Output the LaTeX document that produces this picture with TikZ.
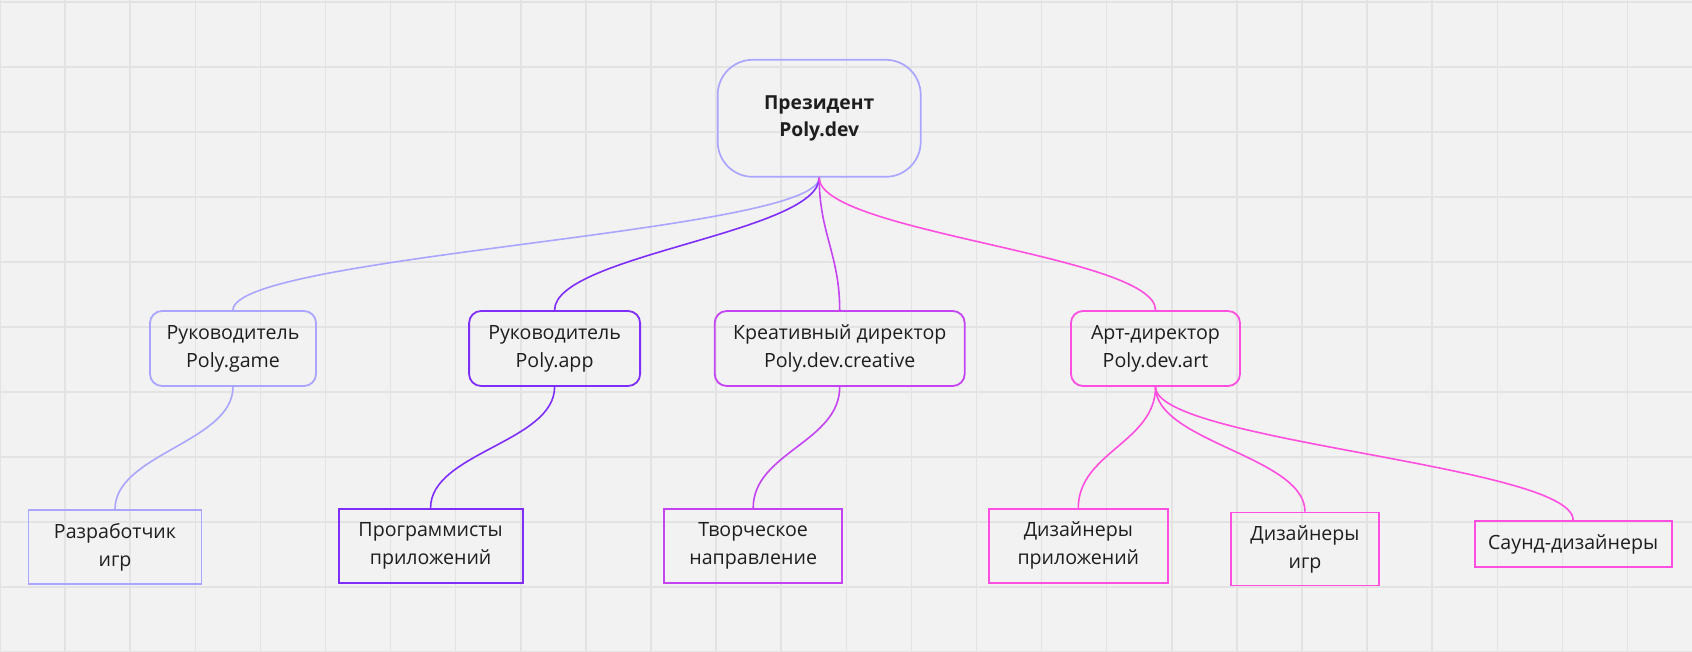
\documentclass[tikz,border=0pt]{standalone}
\usepackage{fontspec}
\setmainfont{Open Sans}
\usepackage{xcolor}
\definecolor{canvas}{HTML}{F2F2F2}
\definecolor{gridgray}{HTML}{E3E3E3}
\definecolor{inkcol}{HTML}{1E1E1E}
\definecolor{gamecol}{HTML}{AAA6FF}
\definecolor{appcol}{HTML}{7F2EF9}
\definecolor{creativecol}{HTML}{C443F2}
\definecolor{artcol}{HTML}{FF4FE0}

\begin{document}
\begin{tikzpicture}[
    x=1pt, y=-1pt,
    chief/.style={rectangle, draw=gamecol, rounded corners=35pt, line width=1.7pt, align=center, text=inkcol, font=\fontsize{19.3}{27}\selectfont\bfseries},
    lead/.style={rectangle, draw, rounded corners=12pt, line width=1.8pt, align=center, text=inkcol, font=\fontsize{19.6}{28}\selectfont, minimum height=75pt},
    team/.style={rectangle, draw, line width=1.8pt, align=center, text=inkcol, font=\fontsize{19.6}{28}\selectfont},
    branch/.style={line width=1.6pt, to path={.. controls +(0,55) and +(0,-55) .. (\tikztotarget)}},
    gridline/.style={draw=gridgray, line width=1.5pt}
]

\useasboundingbox (0,0) rectangle (1692,652);
\fill[canvas] (0,0) rectangle (1692,652);
\foreach \gx in {0,...,26}
    \draw[gridline] (\gx*65.1,0) -- (\gx*65.1,652);
\foreach \gy in {0,...,10}
    \draw[gridline] (0,2+\gy*65) -- (1692,2+\gy*65);

\node[chief, minimum width=203pt, minimum height=117pt] (president) at (819.2,118.3) {Президент\\Poly.dev};

\node[lead, draw=gamecol, minimum width=166pt] (game_lead) at (233,348.5) {Руководитель\\Poly.game};
\node[lead, draw=appcol, minimum width=171pt] (app_lead) at (554.6,348.5) {Руководитель\\Poly.app};
\node[lead, draw=creativecol, minimum width=250pt] (creative_lead) at (839.7,348.5) {Креативный директор\\Poly.dev.creative};
\node[lead, draw=artcol, minimum width=169pt] (art_lead) at (1155.5,348.5) {Арт-директор\\Poly.dev.art};

\node[team, draw=gamecol, minimum width=173pt, minimum height=74pt] (game_dev) at (115,547) {Разработчик\\игр};
\node[team, draw=appcol, minimum width=184pt, minimum height=74pt] (app_dev) at (430.6,545.7) {Программисты\\приложений};
\node[team, draw=creativecol, minimum width=178pt, minimum height=74pt] (creative_dir) at (753.2,545.7) {Творческое\\направление};
\node[team, draw=artcol, minimum width=179pt, minimum height=74pt] (art_app) at (1078.3,545.7) {Дизайнеры\\приложений};
\node[team, draw=artcol, minimum width=148pt, minimum height=73pt] (art_game) at (1305,549) {Дизайнеры\\игр};
\node[team, draw=artcol, minimum width=197pt, minimum height=46pt] (art_sound) at (1573.1,544) {Саунд-дизайнеры};

\draw[branch, gamecol] (president.south) to (game_lead.north);
\draw[branch, appcol] (president.south) to (app_lead.north);
\draw[branch, creativecol] (president.south) to (creative_lead.north);
\draw[branch, artcol] (president.south) to (art_lead.north);
\draw[branch, gamecol] (game_lead.south) to (game_dev.north);
\draw[branch, appcol] (app_lead.south) to (app_dev.north);
\draw[branch, creativecol] (creative_lead.south) to (creative_dir.north);
\draw[branch, artcol] (art_lead.south) to (art_app.north);
\draw[branch, artcol] (art_lead.south) to (art_game.north);
\draw[branch, artcol] (art_lead.south) to (art_sound.north);

\end{tikzpicture}
\end{document}
